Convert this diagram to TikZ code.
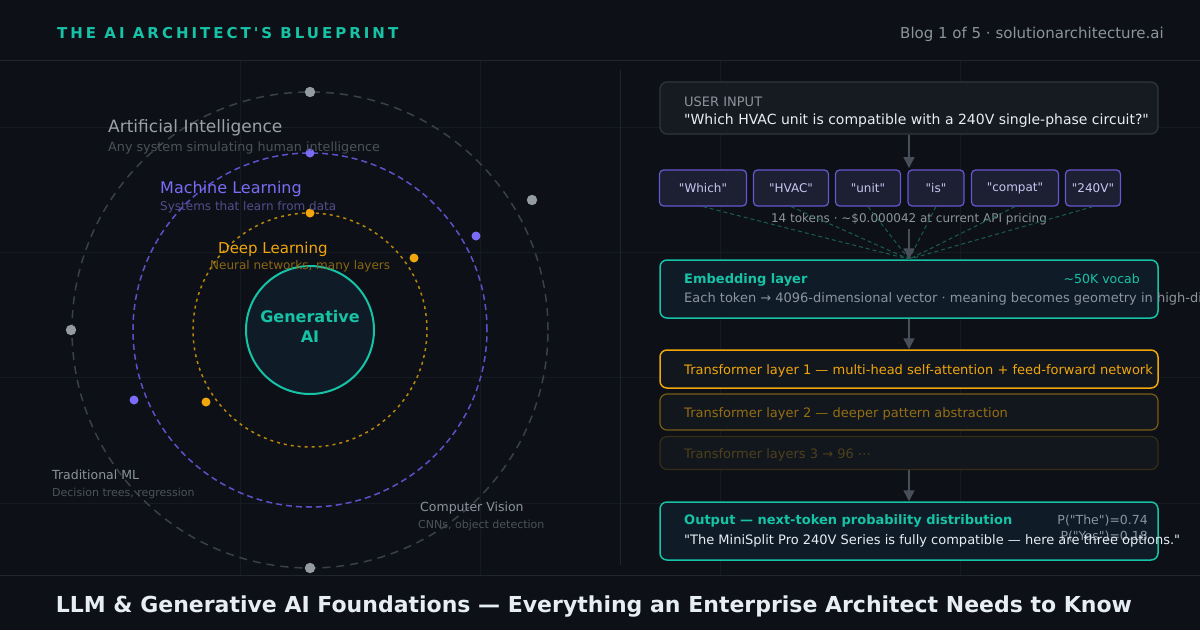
\documentclass[tikz,border=0pt]{standalone}
\usepackage{fontspec}
\setmainfont{DejaVu Sans}
\newfontfamily\trackfont{DejaVu Sans}[LetterSpace=20]
\usetikzlibrary{arrows.meta,positioning,calc}

\definecolor{bgdark}{HTML}{0D1117}
\definecolor{gridline}{HTML}{161B22}
\definecolor{rule}{HTML}{21262D}
\definecolor{teal}{HTML}{17C3A6}
\definecolor{tealdim}{HTML}{1A5C54}
\definecolor{mlpurple}{HTML}{7B6CF6}
\definecolor{mlorbit}{HTML}{5E50C8}
\definecolor{mlsub}{HTML}{544C8A}
\definecolor{dlorange}{HTML}{F0A60C}
\definecolor{dlorbit}{HTML}{B8860B}
\definecolor{dlsub}{HTML}{8A6613}
\definecolor{aigray}{HTML}{9BA1A8}
\definecolor{aiorbit}{HTML}{3A4048}
\definecolor{aisub}{HTML}{4B525A}
\definecolor{muted}{HTML}{8B949E}
\definecolor{arrowgray}{HTML}{484F58}
\definecolor{boxfill}{HTML}{161B22}
\definecolor{boxline}{HTML}{30363D}
\definecolor{embfill}{HTML}{0F1C27}
\definecolor{tokfill}{HTML}{1D1F33}
\definecolor{tokline}{HTML}{6856D0}
\definecolor{toktext}{HTML}{C9C5F2}
\definecolor{txtwhite}{HTML}{E6EDF3}
\definecolor{tfill}{HTML}{12161D}
\definecolor{tiline}{HTML}{7A5C12}
\definecolor{titext}{HTML}{946E14}
\definecolor{tdline}{HTML}{352D16}
\definecolor{tdtext}{HTML}{4E401C}
\definecolor{dotgray}{HTML}{959BA3}

\newcommand{\fs}[1]{\fontsize{#1}{#1}\selectfont}
\newcommand{\qt}[1]{\textquotedbl#1\textquotedbl}

\begin{document}
\begin{tikzpicture}[x=1pt, y=-1pt, >={Triangle[length=11pt,width=11pt]},
    lbl/.style={inner sep=0pt, anchor=base west},
    flow/.style={->, arrowgray, line width=1.5pt},
    panel/.style={rounded corners=7pt, minimum width=498pt, line width=1.2pt},
    tok/.style={draw=tokline, fill=tokfill, rounded corners=4pt, line width=1.2pt,
        minimum height=36pt, inner sep=0pt, text=toktext, font=\fs{12}},
    feed/.style={tealdim, line width=1pt, dash pattern=on 4pt off 3pt}]

    \useasboundingbox (0,0) rectangle (1200,630);
    \clip (0,0) rectangle (1200,630);
    \fill[bgdark] (0,0) rectangle (1200,630);

    % faint grid
    \foreach \gx in {240,480,720,960}
        \draw[gridline, line width=1pt] (\gx,60) -- (\gx,575);
    \foreach \gy in {127,252,377,503}
        \draw[gridline, line width=1pt] (0,\gy) -- (1200,\gy);
    \draw[rule, line width=1pt] (0,60) -- (1200,60);
    \draw[rule, line width=1pt] (0,575) -- (1200,575);
    \draw[rule, line width=1pt] (620,70) -- (620,565);

    % header and footer
    \node[lbl, text=teal, font=\trackfont\bfseries\fs{15}] (brand) at (57,38) {THE AI ARCHITECT'S BLUEPRINT};
    \node[inner sep=0pt, anchor=base east, text=muted, font=\fs{15}] (series) at (1164,38) {Blog 1 of 5 · solutionarchitecture.ai};
    \node[inner sep=0pt, anchor=base, text=txtwhite, font=\bfseries\fs{22}] (headline) at (594,612)
        {LLM \& Generative AI Foundations — Everything an Enterprise Architect Needs to Know};

    % nested orbits (left)
    \coordinate (hub) at (310,330);
    \draw[aiorbit, line width=1.5pt, dash pattern=on 8pt off 6pt] (hub) circle (238pt);
    \draw[mlorbit, line width=1.5pt, dash pattern=on 6pt off 4pt] (hub) circle (177pt);
    \draw[dlorbit, line width=1.5pt, dash pattern=on 3pt off 4pt] (hub) circle (117pt);
    \node[circle, draw=teal, fill=embfill, line width=2pt, minimum size=128pt, inner sep=0pt] (gen) at (hub) {};
    \node[align=center, inner sep=0pt, text=teal, font=\bfseries\fs{16}] (genlbl) at (310,326)
        {Generative\\[4pt]AI};

    % orbit dots
    \foreach \p in {(310,92),(310,568),(71,330),(532,200)}
        \fill[dotgray] \p circle (5.2pt);
    \foreach \p in {(310,153),(476,236),(134,400)}
        \fill[mlpurple] \p circle (4.5pt);
    \foreach \p in {(310,213),(414,258),(206,402)}
        \fill[dlorange] \p circle (4.5pt);

    % orbit labels
    \node[lbl, text=aigray, font=\fs{17}] (ai) at (108,132) {Artificial Intelligence};
    \node[lbl, text=aisub, font=\fs{12.75}] (aisubl) at (108,151) {Any system simulating human intelligence};
    \node[lbl, text=mlpurple, font=\fs{16}] (ml) at (160,193) {Machine Learning};
    \node[lbl, text=mlsub, font=\fs{12}] (mlsubl) at (160,210) {Systems that learn from data};
    \node[lbl, text=dlorange, font=\fs{15}] (dl) at (218,253) {Deep Learning};
    \node[lbl, text=dlsub, font=\fs{12}] (dlsubl) at (210,269) {Neural networks, many layers};
    \node[lbl, text=muted, font=\fs{12.5}] (trad) at (52,479) {Traditional ML};
    \node[lbl, text=aisub, font=\fs{11}] (tradsub) at (52,496) {Decision trees, regression};
    \node[lbl, text=muted, font=\fs{12.5}] (cv) at (420,511) {Computer Vision};
    \node[lbl, text=aisub, font=\fs{11}] (cvsub) at (418,528) {CNNs, object detection};

    % user input
    \node[panel, draw=boxline, fill=boxfill, minimum height=52pt] (user) at (909,108) {};
    \node[lbl, text=muted, font=\fs{13}] (userlbl) at (684,106) {USER INPUT};
    \node[lbl, text=txtwhite, font=\fs{14}] (query) at (684,124)
        {\qt{Which HVAC unit is compatible with a 240V single-phase circuit?}};

    % tokens
    \node[tok, minimum width=87pt] (t1) at (703,188) {\qt{Which}};
    \node[tok, minimum width=75pt] (t2) at (791,188) {\qt{HVAC}};
    \node[tok, minimum width=65pt] (t3) at (868,188) {\qt{unit}};
    \node[tok, minimum width=56pt] (t4) at (936,188) {\qt{is}};
    \node[tok, minimum width=87pt] (t5) at (1015,188) {\qt{compat}};
    \node[tok, minimum width=55pt] (t6) at (1093,188) {\qt{240V}};
    \coordinate (tokin) at (909,168);
    \draw[flow] (user.south -| tokin) -- (tokin);
    \node[inner sep=0pt, anchor=base, text=muted, font=\fs{12}] (cost) at (909,222)
        {14 tokens · \textasciitilde\$0.000042 at current API pricing};

    % embedding
    \node[panel, draw=teal, fill=embfill, line width=1.5pt, minimum height=58pt] (embed) at (909,289) {};
    \foreach \t in {t1,t2,t3,t4,t5,t6}
        \draw[feed] (\t.south) -- (embed.north);
    \coordinate (costout) at (909,229);
    \draw[flow] (costout) -- (embed.north);
    \node[lbl, text=teal, font=\bfseries\fs{13}] (embt) at (684,283) {Embedding layer};
    \node[inner sep=0pt, anchor=base east, text=teal, font=\fs{12.5}] (vocab) at (1140,283) {\textasciitilde50K vocab};
    \node[lbl, text=muted, font=\fs{13}] (embd) at (684,302)
        {Each token → 4096-dimensional vector · meaning becomes geometry in high-dimensional space};

    % transformer stack
    \node[panel, draw=dlorange, fill=tfill, line width=1.5pt, minimum height=38pt] (tr1) at (909,369) {};
    \node[lbl, text=dlorange, font=\fs{13}] (tr1t) at (684,374)
        {Transformer layer 1 — multi-head self-attention + feed-forward network};
    \node[panel, draw=tiline, fill=tfill, minimum height=36pt] (tr2) at (909,412) {};
    \node[lbl, text=titext, font=\fs{13}] (tr2t) at (684,417) {Transformer layer 2 — deeper pattern abstraction};
    \node[panel, draw=tdline, fill=tfill, minimum height=33pt] (tr3) at (909,453) {};
    \node[lbl, text=tdtext, font=\fs{13}] (tr3t) at (684,458) {Transformer layers 3 → 96 ⋯};
    \draw[flow] (embed.south) -- (tr1.north);

    % output
    \node[panel, draw=teal, fill=embfill, line width=1.5pt, minimum height=58pt] (out) at (909,531) {};
    \draw[flow] (tr3.south) -- (out.north);
    \node[lbl, text=teal, font=\bfseries\fs{13}] (outt) at (684,524) {Output — next-token probability distribution};
    \node[inner sep=0pt, anchor=base east, text=muted, font=\fs{12.5}] (pthe) at (1148,524) {P(\qt{The})=0.74};
    \node[inner sep=0pt, anchor=base east, text=muted, font=\fs{12.5}] (pyes) at (1148,540) {P(\qt{Yes})=0.18};
    \node[lbl, text=txtwhite, font=\fs{13}] (answer) at (684,544)
        {\qt{The MiniSplit Pro 240V Series is fully compatible — here are three options.}};
\end{tikzpicture}
\end{document}
